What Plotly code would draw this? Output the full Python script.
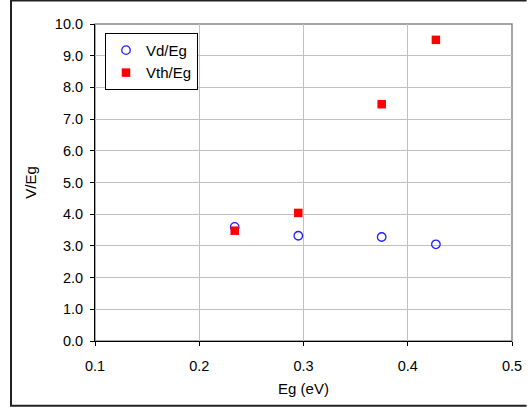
import plotly.graph_objects as go

# Band gap (eV) and normalised voltages
eg_vd = [0.234, 0.295, 0.375, 0.427]
vd_eg = [3.60, 3.32, 3.28, 3.05]

eg_vth = [0.234, 0.295, 0.375, 0.427]
vth_eg = [3.48, 4.04, 7.47, 9.50]

x_ticks = [0.1, 0.2, 0.3, 0.4, 0.5]
y_ticks = [0, 1, 2, 3, 4, 5, 6, 7, 8, 9, 10]

family = "Liberation Sans, Arial, sans-serif"
tick_font = dict(family=family, size=14.5, color="black")
title_font = dict(family=family, size=15, color="black")

fig = go.Figure()
fig.add_trace(go.Scatter(
    x=eg_vd, y=vd_eg, mode="markers", name="Vd/Eg",
    marker=dict(symbol="circle-open", size=8.5, color="#1f1fff",
                line=dict(width=1.3, color="#1f1fff")),
))
fig.add_trace(go.Scatter(
    x=eg_vth, y=vth_eg, mode="markers", name="Vth/Eg",
    marker=dict(symbol="square", size=8.5, color="#ff0000"),
))

# outer chart border: left, top and bottom edges, running to the page edge
bx0, bx1, by0, by1 = -0.2014, 1.035, -0.204, 1.074
border_path = f"M {bx1},{by1} L {bx0},{by1} L {bx0},{by0} L {bx1},{by0}"

fig.update_layout(
    width=528, height=409,
    margin=dict(l=95, r=16, t=24, b=68, autoexpand=False),
    paper_bgcolor="white", plot_bgcolor="white",
    font=tick_font,
    showlegend=True,
    legend=dict(x=0.024, y=0.972, xanchor="left", yanchor="top",
                bordercolor="black", borderwidth=1, bgcolor="white",
                font=dict(family=family, size=15, color="black"),
                itemwidth=30, tracegroupgap=0),
    xaxis=dict(
        range=[0.1, 0.5], tickvals=x_ticks, ticktext=[f"{v:.1f}" for v in x_ticks],
        showgrid=True, gridcolor="#c0c0c0", gridwidth=1,
        showline=True, linecolor="black", linewidth=1,
        ticks="outside", ticklen=4, tickcolor="black",
        ticklabelstandoff=8,
        tickfont=tick_font,
        zeroline=False, automargin=False,
        title=dict(text="Eg (eV)", standoff=10, font=title_font),
    ),
    yaxis=dict(
        range=[0, 10], tickvals=y_ticks, ticktext=[f"{v:.1f}" for v in y_ticks],
        showgrid=True, gridcolor="#c0c0c0", gridwidth=1,
        showline=True, linecolor="black", linewidth=1,
        ticks="outside", ticklen=4, tickcolor="black",
        ticklabelstandoff=4,
        tickfont=tick_font,
        zeroline=False, automargin=False,
        title=dict(text="V/Eg", standoff=14, font=title_font),
    ),
    shapes=[
        # plot area frame (top and right edges)
        dict(type="rect", xref="x domain", yref="y domain",
             x0=0, x1=1, y0=0, y1=1, line=dict(color="#888888", width=1.5),
             layer="below"),
        dict(type="path", xref="paper", yref="paper", path=border_path,
             line=dict(color="#222222", width=2)),
    ],
)

fig.write_html("out.html")
